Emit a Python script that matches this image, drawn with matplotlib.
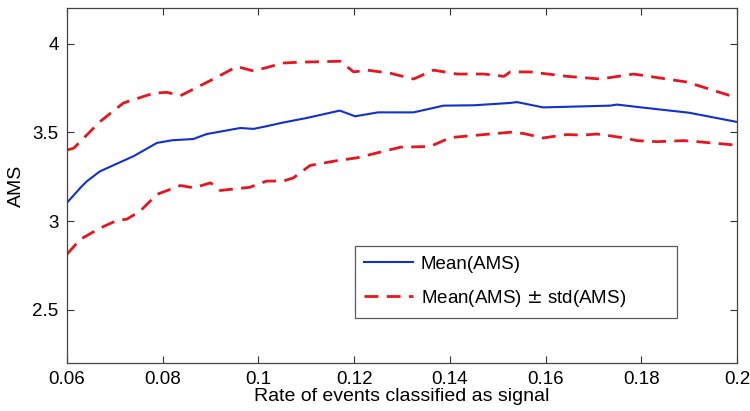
import matplotlib
matplotlib.use("Agg")
import matplotlib.pyplot as plt

plt.rcParams['font.family'] = ['Liberation Sans', 'DejaVu Sans']

# mean AMS
x_mean = [0.06, 0.0628, 0.0642, 0.0669, 0.0739, 0.0788, 0.082, 0.0864, 0.0892, 0.0962,
          0.099, 0.1017, 0.1052, 0.11, 0.117, 0.1202, 0.125, 0.1324, 0.1387, 0.145,
          0.1526, 0.154, 0.1595, 0.1665, 0.1735, 0.1749, 0.18, 0.19, 0.2]
y_mean = [3.103, 3.187, 3.225, 3.28, 3.365, 3.44, 3.455, 3.462, 3.49, 3.524,
          3.519, 3.534, 3.555, 3.58, 3.622, 3.59, 3.612, 3.612, 3.65, 3.652,
          3.665, 3.67, 3.64, 3.645, 3.65, 3.656, 3.64, 3.61, 3.558]

# mean + std
x_up = [0.06, 0.0614, 0.0669, 0.0718, 0.0781, 0.0809, 0.0837, 0.0906, 0.0955, 0.099,
        0.1052, 0.1087, 0.1171, 0.1199, 0.1227, 0.1275, 0.1324, 0.1366, 0.1415, 0.1471,
        0.1513, 0.1526, 0.1568, 0.1645, 0.1714, 0.1784, 0.1895, 0.1993, 0.2]
y_up = [3.40, 3.41, 3.56, 3.665, 3.72, 3.725, 3.706, 3.80, 3.87, 3.845,
        3.89, 3.895, 3.90, 3.84, 3.85, 3.833, 3.80, 3.85, 3.828, 3.828,
        3.815, 3.84, 3.84, 3.815, 3.80, 3.828, 3.783, 3.70, 3.69]

# mean - std
x_low = [0.06, 0.0628, 0.0669, 0.0705, 0.0725, 0.0753, 0.0788, 0.0837, 0.0865, 0.09,
         0.092, 0.0982, 0.1017, 0.1052, 0.1073, 0.1108, 0.1164, 0.1206, 0.1262, 0.1297,
         0.1359, 0.1401, 0.1471, 0.1526, 0.1554, 0.1595, 0.1644, 0.1679, 0.1707, 0.1735,
         0.1764, 0.1791, 0.1833, 0.1889, 0.1917, 0.2]
y_low = [2.813, 2.897, 2.96, 3.004, 3.01, 3.056, 3.15, 3.20, 3.187, 3.215,
         3.172, 3.19, 3.225, 3.225, 3.243, 3.313, 3.34, 3.356, 3.393, 3.416,
         3.42, 3.47, 3.487, 3.50, 3.493, 3.468, 3.487, 3.484, 3.49, 3.48,
         3.468, 3.453, 3.447, 3.453, 3.447, 3.427]

blue = '#1030d0'
red = '#e8141e'

fig = plt.figure(figsize=(7.5, 4.11), dpi=100)
ax = fig.add_axes([0.0893, 0.1168, 0.8934, 0.8637])

ax.plot(x_mean, y_mean, color=blue, lw=1.5, label='Mean(AMS)')
ax.plot(x_up, y_up, color=red, lw=2, dashes=(5, 3), label='Mean(AMS) $\\pm$ std(AMS)')
ax.plot(x_low, y_low, color=red, lw=2, dashes=(5, 3))

ax.set_xlim(0.06, 0.2)
ax.set_ylim(2.2, 4.2)
ax.set_xticks([0.06, 0.08, 0.1, 0.12, 0.14, 0.16, 0.18, 0.2])
ax.set_xticklabels(['0.06', '0.08', '0.1', '0.12', '0.14', '0.16', '0.18', '0.2'])
ax.set_yticks([2.5, 3, 3.5, 4])
ax.set_yticklabels(['2.5', '3', '3.5', '4'])
ax.tick_params(direction='in', top=True, right=True, length=5, width=0.8,
               labelsize=13.5, colors='#333333', labelcolor='black', pad=6)
for s in ax.spines.values():
    s.set_color('#444444')
    s.set_linewidth(0.9)

ax.set_xlabel('Rate of events classified as signal', fontsize=14, labelpad=0)
ax.set_ylabel('AMS', fontsize=14, labelpad=5)

leg = ax.legend(loc='lower left', bbox_to_anchor=(0.43, 0.127, 0.48, 0.2), mode='expand',
                fancybox=False, edgecolor='#333333', fontsize=13.5, handlelength=2.6,
                handletextpad=0.4, borderpad=0.5, labelspacing=0.8, borderaxespad=0)
leg.get_frame().set_linewidth(0.9)

fig.savefig('out.png', dpi=100)
